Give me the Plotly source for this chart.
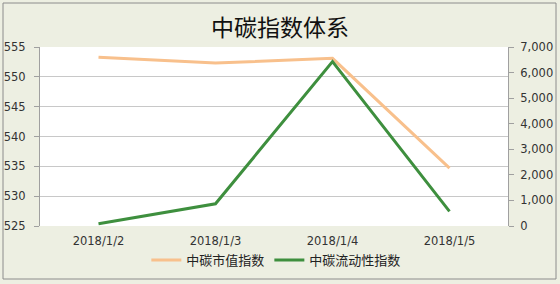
import plotly.graph_objects as go

categories = ["2018/1/2", "2018/1/3", "2018/1/4", "2018/1/5"]
market_value_index = [553.3, 552.3, 553.1, 534.7]
liquidity_index = [90, 870, 6430, 570]
series_names = ["中碳市值指数", "中碳流动性指数"]
title_text = "中碳指数体系"

W, H = 560, 284
ML, MR, MT, MB = 40, 52, 47, 58
pw, ph = W - ML - MR, H - MT - MB

fig = go.Figure()
fig.add_trace(go.Scatter(x=categories, y=market_value_index, name=series_names[0],
                         mode="lines", line=dict(color="#F8C08C", width=3), yaxis="y"))
fig.add_trace(go.Scatter(x=categories, y=liquidity_index, name=series_names[1],
                         mode="lines", line=dict(color="#3E8F3E", width=3), yaxis="y2"))

font = "Noto Sans CJK SC, DejaVu Sans, sans-serif"
tickfont = dict(family="DejaVu Sans, sans-serif", size=11.5, color="#333333")

def px_x(x):
    return (x - ML) / pw

def px_y(y):
    return (H - MB - y) / ph

fig.update_layout(
    width=W, height=H,
    margin=dict(l=ML, r=MR, t=MT, b=MB, autoexpand=False),
    paper_bgcolor="#EDEFE2",
    plot_bgcolor="#FFFFFF",
    title=dict(text=title_text, x=0.5, xanchor="center", y=1 - 28 / H, yanchor="middle",
               font=dict(family=font, size=23, color="#111111")),
    font=dict(family=font, size=11, color="#333333"),
    showlegend=True,
    legend=dict(orientation="h", x=0.505, xanchor="center", y=px_y(260), yanchor="middle",
                bgcolor="rgba(0,0,0,0)", font=dict(size=13, color="#222222"),
                itemwidth=30, tracegroupgap=0),
    xaxis=dict(type="category", range=[-0.5, 3.5], showgrid=False, showline=False,
               ticks="", tickfont=tickfont, zeroline=False, ticklabelstandoff=6,
               automargin=False),
    yaxis=dict(range=[525, 555], dtick=5, showgrid=True, gridcolor="#C8C8C8", gridwidth=1,
               showline=True, linecolor="#A0A0A0", ticks="outside", ticklen=5,
               tickcolor="#A0A0A0", tickfont=tickfont, zeroline=False, ticklabelstandoff=6,
               automargin=False),
    yaxis2=dict(range=[0, 7000], dtick=1000, overlaying="y", side="right", showgrid=False,
                showline=True, linecolor="#A0A0A0", ticks="outside", ticklen=5,
                tickcolor="#A0A0A0", tickformat=",d", tickfont=tickfont,
                zeroline=False, ticklabelstandoff=4, automargin=False),
    shapes=[dict(type="rect", xref="paper", yref="paper",
                 x0=px_x(3), x1=px_x(556), y0=px_y(279), y1=px_y(3),
                 line=dict(color="#8C8C8C", width=1), fillcolor="rgba(0,0,0,0)", layer="below")],
)

fig.write_html("out.html")
